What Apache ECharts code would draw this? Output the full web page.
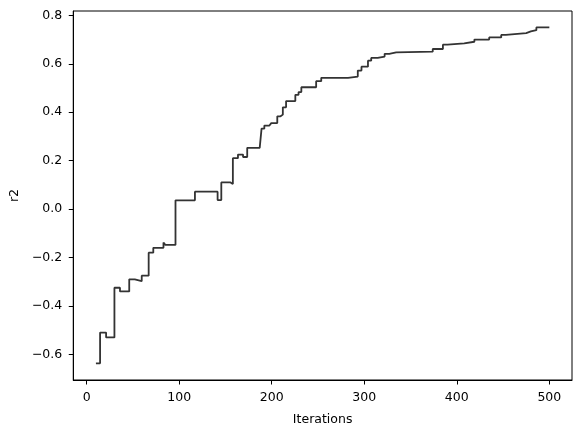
<!DOCTYPE html>
<html>
<head>
<meta charset="utf-8">
<script src="https://cdn.jsdelivr.net/npm/echarts@6/dist/echarts.min.js"></script>
<style>
  html, body { margin: 0; padding: 0; background: #fff; }
  #chart { width: 578px; height: 433px; }
</style>
</head>
<body>
<div id="chart"></div>
<script>
// iteration where each level starts, and the r2 value held until the next one
const iters = [10, 14.5, 21, 30, 36, 46, 52, 59.5, 67, 72, 83, 85, 96, 117, 141.5, 145.5,
  155.5, 158, 163.5, 169, 173.5, 187, 189, 192, 197.5, 199.5, 206, 209.5, 212, 215.5,
  225.5, 229, 232, 248, 253.5, 282.5, 293, 297, 304, 307.5, 314.5, 322, 327, 334.5,
  374, 385, 390, 408, 419, 435, 448, 453, 475, 480, 486, 500]
const r2 = [-0.637, -0.51, -0.53, -0.325, -0.34, -0.29, -0.298, -0.275, -0.18, -0.16, -0.138, -0.148,
  0.036, 0.072, 0.037, 0.11, 0.103, 0.21, 0.225, 0.215, 0.253, 0.258, 0.332, 0.345, 0.34, 0.355,
  0.383, 0.39, 0.42, 0.446, 0.472, 0.483, 0.503, 0.528, 0.542, 0.547, 0.572, 0.588, 0.613,
  0.624, 0.63, 0.641, 0.647, 0.65, 0.661, 0.679, 0.684, 0.691, 0.7, 0.709, 0.719, 0.727,
  0.734, 0.739, 0.75, 0.75]

const xTicks = [0, 100, 200, 300, 400, 500]
const yTicks = [-0.6, -0.4, -0.2, 0.0, 0.2, 0.4, 0.6, 0.8]

const font = 'DejaVu Sans'
const chart = echarts.init(document.getElementById('chart'))

chart.setOption({
  animation: false,
  grid: {
    left: 73, right: 6, top: 11, bottom: 53,
    show: true, borderColor: '#000', borderWidth: 1
  },
  xAxis: {
    type: 'value',
    min: -14.5, max: 524.5,
    name: 'Iterations',
    nameLocation: 'middle',
    nameGap: 33,
    nameTextStyle: { color: '#000', fontFamily: font, fontSize: 12.5 },
    axisLine: { onZero: false, lineStyle: { color: '#000', width: 1 } },
    axisTick: { customValues: xTicks, length: 4.5, lineStyle: { color: '#000' } },
    axisLabel: { customValues: xTicks, margin: 11, color: '#000', fontFamily: font, fontSize: 12.5 },
    splitLine: { show: false }
  },
  yAxis: {
    type: 'value',
    min: -0.706, max: 0.818,
    name: 'r2',
    nameLocation: 'middle',
    nameGap: 49,
    nameTextStyle: { color: '#000', fontFamily: font, fontSize: 12.5 },
    axisLine: { show: true, onZero: false, lineStyle: { color: '#000', width: 1 } },
    axisTick: { show: true, customValues: yTicks, length: 4.5, lineStyle: { color: '#000' } },
    axisLabel: {
      customValues: yTicks, margin: 11, color: '#000', fontFamily: font, fontSize: 12.5,
      formatter: v => v.toFixed(1).replace('-', '\u2212')
    },
    splitLine: { show: false }
  },
  series: [{
    type: 'line',
    step: 'end',
    data: iters.map((x, i) => [x, r2[i]]),
    symbol: 'none',
    lineStyle: { color: '#333', width: 1.8 }
  }]
})
</script>
</body>
</html>
